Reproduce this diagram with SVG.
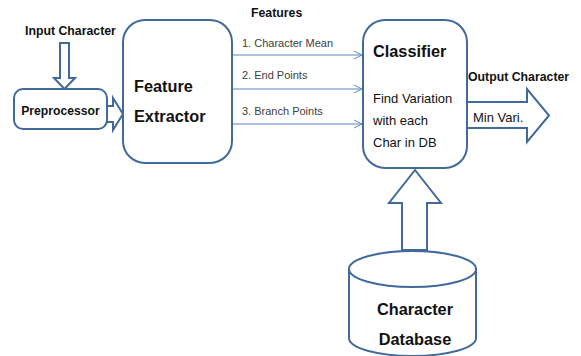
<svg xmlns="http://www.w3.org/2000/svg" width="581" height="356" viewBox="0 0 581 356">
<defs>
<style>
.box{fill:#fff;stroke:#41699c;stroke-width:2}
.big{fill:#fff;stroke:#41699c;stroke-width:2}
.fl{stroke:#5b87c2;stroke-width:1;fill:none}
.t{font-family:"Liberation Sans",Arial,sans-serif;fill:#111}
.b{font-weight:bold}
.lbl{font-family:"Liberation Sans",Arial,sans-serif;font-size:11px;fill:#404040}
</style>
<marker id="ah" markerWidth="10" markerHeight="10" refX="9" refY="5" orient="auto" markerUnits="userSpaceOnUse">
<path d="M1,1 L9,5 L1,9" fill="none" stroke="#5b87c2" stroke-width="1"/>
</marker>
</defs>
<rect width="581" height="356" fill="#fff"/>
<text class="t b" x="25" y="35" font-size="12.3">Input Character</text>
<text class="t b" x="251" y="17" font-size="12.3">Features</text>
<text class="t b" x="468" y="81" font-size="12.3">Output Character</text>

<g id="connectors">
<polygon class="big" points="60,43 69,43 69,78 75,78 64.5,89 54,78 60,78"/>
<polygon class="big" points="107,106 113,106 113,98 123,114 113,130 113,122 107,122"/>
<line class="fl" x1="232" y1="55" x2="362" y2="55" marker-end="url(#ah)"/>
<line class="fl" x1="232" y1="89" x2="362" y2="89" marker-end="url(#ah)"/>
<line class="fl" x1="232" y1="124" x2="362" y2="124" marker-end="url(#ah)"/>
<text class="lbl" x="242" y="47">1. Character Mean</text>
<text class="lbl" x="242" y="79">2. End Points</text>
<text class="lbl" x="242" y="115">3. Branch Points</text>
<polygon class="big" points="467,102 527,102 527,89 549,115.5 527,142 527,128 467,128"/>
<text class="t" x="473" y="122" font-size="13">Min Vari.</text>
<polygon class="big" points="402,250 402,203 389,203 415,170 441,203 427,203 427,250"/>
</g>

<g id="preprocessor">
<rect class="box" x="14" y="89" width="93" height="40" rx="9"/>
<text class="t b" x="60.5" y="115" font-size="12.2" text-anchor="middle">Preprocessor</text>
</g>

<g id="feature-extractor">
<rect class="box" x="123" y="20" width="109" height="143" rx="22"/>
<text class="t b" x="134" y="92" font-size="16.3">Feature</text>
<text class="t b" x="134" y="122" font-size="16.3">Extractor</text>
</g>

<g id="classifier">
<rect class="box" x="363" y="20" width="104" height="148" rx="22"/>
<text class="t b" x="373" y="57" font-size="16.3">Classifier</text>
<text class="t" x="373" y="103" font-size="13">Find Variation</text>
<text class="t" x="373" y="125" font-size="13">with each</text>
<text class="t" x="373" y="147" font-size="13">Char in DB</text>
</g>

<g id="database">
<path class="box" d="M349,269 L349,338 A63.5,18 0 0 0 476,338 L476,269 A63.5,18 0 0 0 349,269 Z"/>
<path d="M349,269 A63.5,18 0 0 0 476,269" fill="none" stroke="#41699c" stroke-width="2"/>
<text class="t b" x="415" y="315" font-size="16.3" text-anchor="middle">Character</text>
<text class="t b" x="415" y="345" font-size="16.3" text-anchor="middle">Database</text>
</g>
</svg>
